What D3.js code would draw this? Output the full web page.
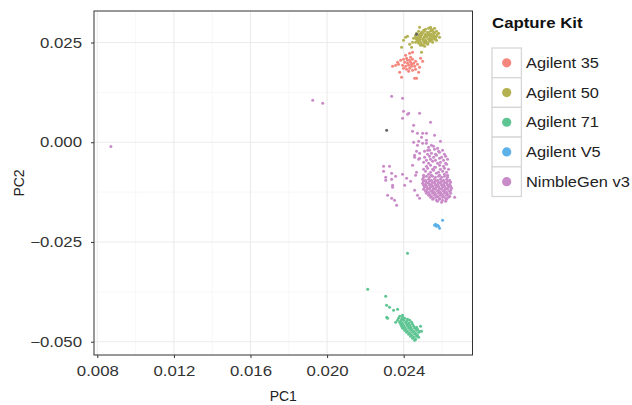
<!DOCTYPE html>
<html>
<head>
<meta charset="utf-8">
<script src="https://cdn.jsdelivr.net/npm/d3@7"></script>
<style>
  body { margin: 0; background: #fff; }
  text { font-family: "Liberation Sans", Arial, Helvetica, sans-serif; }
</style>
</head>
<body>
<svg id="chart" width="632" height="405"></svg>
<script>
// Capture kit groups and their colours
const kits = ["Agilent 35", "Agilent 50", "Agilent 71", "Agilent V5", "NimbleGen v3"];
const kitColors = ["#f4867d", "#b3b150", "#5ec592", "#5cb2e8", "#c98ac8"];

// Axis ticks
const xTicks = [0.008, 0.012, 0.016, 0.020, 0.024];
const xMinor = [0.010, 0.014, 0.018, 0.022, 0.026];
const yTicks = [0.025, 0.000, -0.025, -0.050];
const yMinor = [0.0125, -0.0125, -0.0375];

// Samples: [PC1, PC2]
const agilent35 = [
  [0.02399,0.02081],[0.02415,0.02106],[0.02431,0.02056],[0.02446,0.02081],[0.02405,0.02006],
  [0.02420,0.01981],[0.02436,0.02006],[0.02452,0.01981],[0.02462,0.02031],[0.02394,0.01931],
  [0.02410,0.01906],[0.02426,0.01931],[0.02441,0.01906],[0.02457,0.01906],[0.02415,0.01830],
  [0.02431,0.01856],[0.02446,0.01805],[0.02399,0.01856],[0.02426,0.01780],[0.02462,0.01830],
  [0.02436,0.02131],[0.02472,0.01956],[0.02431,0.02232],[0.02446,0.02257],[0.02342,0.01906],
  [0.02358,0.01931],[0.02373,0.01956],[0.02379,0.01755],[0.02389,0.01630],[0.02457,0.01605],
  [0.02467,0.01605],[0.02499,0.02031],[0.02488,0.02106],[0.02478,0.01755],[0.02368,0.02006],
  [0.02384,0.02056],[0.02483,0.01881],[0.02410,0.02182],[0.02420,0.02056],[0.02441,0.01956]
];

const agilent50 = [
  [0.02540,0.02884],[0.02483,0.02884],
  [0.02514,0.02833],[0.02530,0.02858],[0.02545,0.02833],[0.02561,0.02858],
  [0.02504,0.02808],[0.02551,0.02808],
  [0.02478,0.02783],[0.02493,0.02758],[0.02509,0.02783],[0.02525,0.02758],[0.02540,0.02783],[0.02556,0.02758],[0.02571,0.02783],
  [0.02467,0.02733],[0.02483,0.02708],[0.02499,0.02733],[0.02514,0.02708],[0.02530,0.02733],[0.02545,0.02708],[0.02561,0.02733],[0.02577,0.02708],
  [0.02488,0.02708],[0.02535,0.02683],
  [0.02462,0.02683],[0.02478,0.02658],[0.02493,0.02683],[0.02509,0.02658],[0.02525,0.02683],[0.02540,0.02658],[0.02556,0.02683],[0.02571,0.02658],
  [0.02519,0.02658],[0.02561,0.02633],
  [0.02462,0.02633],[0.02472,0.02608],[0.02488,0.02633],[0.02504,0.02608],[0.02519,0.02633],[0.02535,0.02608],[0.02551,0.02633],[0.02566,0.02608],
  [0.02483,0.02583],[0.02545,0.02583],
  [0.02467,0.02583],[0.02483,0.02558],[0.02499,0.02583],[0.02514,0.02558],[0.02530,0.02583],[0.02545,0.02558],[0.02561,0.02583],
  [0.02509,0.02533],[0.02571,0.02558],
  [0.02472,0.02533],[0.02488,0.02508],[0.02504,0.02533],[0.02519,0.02508],[0.02535,0.02533],[0.02551,0.02508],
  [0.02525,0.02482],[0.02462,0.02508],
  [0.02478,0.02482],[0.02493,0.02457],[0.02509,0.02482],[0.02525,0.02457],
  [0.02499,0.02432],[0.02488,0.02432],[0.02509,0.02407],
  [0.02410,0.02633],[0.02420,0.02658],[0.02399,0.02558],[0.02389,0.02382],[0.02431,0.02457],
  [0.02446,0.02508],[0.02493,0.02257],[0.02441,0.02382],[0.02582,0.02733],[0.02587,0.02633],
  [0.02452,0.02608]
];

const agilent71 = [
  [0.02420,-0.02783],[0.02212,-0.03686],[0.02306,-0.03862],[0.02311,-0.04087],[0.02326,-0.04137],
  [0.02347,-0.04213],[0.02368,-0.04188],[0.02311,-0.04388],[0.02316,-0.04413],[0.02394,-0.04338],
  [0.02358,-0.04514],
  [0.02379,-0.04363],[0.02394,-0.04388],
  [0.02373,-0.04413],[0.02389,-0.04438],[0.02405,-0.04413],[0.02420,-0.04438],
  [0.02368,-0.04463],[0.02384,-0.04488],[0.02399,-0.04463],[0.02415,-0.04488],[0.02431,-0.04463],
  [0.02379,-0.04514],[0.02394,-0.04539],[0.02410,-0.04514],[0.02426,-0.04539],[0.02441,-0.04514],
  [0.02384,-0.04564],[0.02399,-0.04589],[0.02415,-0.04564],[0.02431,-0.04589],[0.02446,-0.04564],
  [0.02389,-0.04614],[0.02405,-0.04639],[0.02420,-0.04614],[0.02436,-0.04639],[0.02452,-0.04614],[0.02467,-0.04639],
  [0.02394,-0.04664],[0.02410,-0.04689],[0.02426,-0.04664],[0.02441,-0.04689],[0.02457,-0.04664],[0.02472,-0.04689],
  [0.02405,-0.04714],[0.02420,-0.04739],[0.02436,-0.04714],[0.02452,-0.04739],[0.02467,-0.04714],[0.02483,-0.04739],
  [0.02415,-0.04764],[0.02431,-0.04789],[0.02446,-0.04764],[0.02462,-0.04789],[0.02478,-0.04764],
  [0.02426,-0.04814],[0.02441,-0.04839],[0.02457,-0.04814],[0.02472,-0.04839],
  [0.02436,-0.04865],[0.02452,-0.04890],[0.02467,-0.04865],
  [0.02446,-0.04915],[0.02462,-0.04940],
  [0.02488,-0.04614],[0.02478,-0.04890],[0.02457,-0.04965],[0.02493,-0.04739]
];

const agilentV5 = [
  [0.02561,-0.02081],[0.02571,-0.02106],[0.02577,-0.02081],[0.02587,-0.02156],
  [0.02603,-0.01956],[0.02566,-0.02056],[0.02582,-0.02106]
];

const nimbleGenV3 = [
  [0.00871,-0.00108],[0.01925,0.01053],[0.01977,0.00978],
  [0.02337,0.01153],[0.02394,0.01103],[0.02399,0.00777],[0.02420,0.00702],[0.02426,0.00727],
  [0.02483,0.00727],[0.02394,0.00602],[0.02452,0.00426],[0.02540,0.00502],[0.02446,0.00276],
  [0.02472,0.00226],[0.02499,0.00226],[0.02519,0.00226],[0.02561,0.00176],[0.02493,0.00125],
  [0.02452,0.00000],[0.02519,-0.00025],[0.02592,0.00025],[0.02472,-0.00075],[0.02478,0.00025],
  [0.02499,-0.00025],[0.02467,-0.00226],[0.02483,-0.00276],[0.02457,-0.00376],[0.02519,0.00050],
  [0.02545,-0.00075],[0.02525,-0.00201],
  [0.02295,-0.00602],[0.02326,-0.00602],[0.02295,-0.00727],[0.02337,-0.00777],[0.02358,-0.00853],
  [0.02306,-0.00878],[0.02306,-0.00953],[0.02337,-0.00928],[0.02342,-0.01078],[0.02342,-0.01128],
  [0.02394,-0.00802],[0.02415,-0.00903],[0.02405,-0.01078],[0.02316,-0.01329],[0.02337,-0.01404],
  [0.02352,-0.01454],[0.02363,-0.01580],[0.02457,-0.00326],[0.02467,-0.00752],[0.02462,-0.00827],
  [0.02478,-0.00426],[0.02457,-0.01204],[0.02472,-0.01329],[0.02483,-0.01404],[0.02483,-0.00401],
  [0.02666,-0.01379],[0.02446,-0.00577],[0.02436,-0.00978],
  [0.02530,-0.00125],[0.02556,-0.00100],[0.02577,-0.00150],
  [0.02509,-0.00226],[0.02535,-0.00201],[0.02561,-0.00176],[0.02582,-0.00226],[0.02603,-0.00201],
  [0.02525,-0.00301],[0.02545,-0.00276],[0.02566,-0.00301],[0.02587,-0.00251],[0.02613,-0.00301],
  [0.02509,-0.00376],[0.02535,-0.00351],[0.02556,-0.00376],[0.02571,-0.00326],[0.02598,-0.00376],[0.02619,-0.00351],
  [0.02519,-0.00451],[0.02540,-0.00426],[0.02566,-0.00451],[0.02587,-0.00401],[0.02608,-0.00451],[0.02629,-0.00426],
  [0.02504,-0.00502],[0.02530,-0.00527],[0.02551,-0.00476],[0.02577,-0.00527],[0.02592,-0.00502],[0.02619,-0.00527],
  [0.02519,-0.00602],[0.02540,-0.00577],[0.02561,-0.00627],[0.02587,-0.00577],[0.02608,-0.00602],[0.02624,-0.00552],
  [0.02504,-0.00677],[0.02525,-0.00652],[0.02551,-0.00677],[0.02566,-0.00627],[0.02592,-0.00677],[0.02613,-0.00652],[0.02634,-0.00677],
  [0.02514,-0.00727],[0.02540,-0.00752],[0.02556,-0.00702],[0.02582,-0.00752],[0.02603,-0.00727],[0.02624,-0.00752],
  [0.02504,-0.00827],[0.02530,-0.00802],[0.02545,-0.00827],[0.02571,-0.00777],[0.02587,-0.00827],[0.02613,-0.00802],[0.02629,-0.00827],
  [0.02504,-0.00878],[0.02519,-0.00853],[0.02535,-0.00878],[0.02551,-0.00853],[0.02566,-0.00878],[0.02582,-0.00853],[0.02598,-0.00878],[0.02613,-0.00853],[0.02629,-0.00878],
  [0.02499,-0.00928],[0.02514,-0.00953],[0.02530,-0.00928],[0.02545,-0.00953],[0.02561,-0.00928],[0.02577,-0.00953],[0.02592,-0.00928],[0.02608,-0.00953],[0.02624,-0.00928],[0.02640,-0.00953],
  [0.02504,-0.00978],[0.02519,-0.01003],[0.02535,-0.00978],[0.02551,-0.01003],[0.02566,-0.00978],[0.02582,-0.01003],[0.02598,-0.00978],[0.02613,-0.01003],[0.02629,-0.00978],[0.02645,-0.01003],
  [0.02499,-0.01028],[0.02514,-0.01053],[0.02530,-0.01028],[0.02545,-0.01053],[0.02561,-0.01028],[0.02577,-0.01053],[0.02592,-0.01028],[0.02608,-0.01053],[0.02624,-0.01028],[0.02640,-0.01053],
  [0.02504,-0.01078],[0.02519,-0.01103],[0.02535,-0.01078],[0.02551,-0.01103],[0.02566,-0.01078],[0.02582,-0.01103],[0.02598,-0.01078],[0.02613,-0.01103],[0.02629,-0.01078],[0.02645,-0.01103],
  [0.02509,-0.01128],[0.02525,-0.01153],[0.02540,-0.01128],[0.02556,-0.01153],[0.02571,-0.01128],[0.02587,-0.01153],[0.02603,-0.01128],[0.02619,-0.01153],[0.02634,-0.01128],[0.02650,-0.01153],
  [0.02504,-0.01179],[0.02519,-0.01204],[0.02535,-0.01179],[0.02551,-0.01204],[0.02566,-0.01179],[0.02582,-0.01204],[0.02598,-0.01179],[0.02613,-0.01204],[0.02629,-0.01179],[0.02645,-0.01204],
  [0.02514,-0.01229],[0.02530,-0.01254],[0.02545,-0.01229],[0.02561,-0.01254],[0.02577,-0.01229],[0.02592,-0.01254],[0.02608,-0.01229],[0.02624,-0.01254],[0.02640,-0.01229],
  [0.02519,-0.01279],[0.02535,-0.01304],[0.02551,-0.01279],[0.02566,-0.01304],[0.02582,-0.01279],[0.02598,-0.01304],[0.02613,-0.01279],[0.02629,-0.01304],[0.02645,-0.01279],
  [0.02530,-0.01329],[0.02545,-0.01354],[0.02561,-0.01329],[0.02577,-0.01354],[0.02592,-0.01329],[0.02608,-0.01354],[0.02624,-0.01329],[0.02640,-0.01354],
  [0.02540,-0.01379],[0.02556,-0.01404],[0.02571,-0.01379],[0.02587,-0.01404],[0.02603,-0.01379],[0.02619,-0.01404],[0.02634,-0.01379],
  [0.02551,-0.01429],[0.02571,-0.01454],[0.02587,-0.01429],[0.02603,-0.01454],[0.02624,-0.01429],
  [0.02577,-0.01479],[0.02598,-0.01504],[0.02619,-0.01479]
];

// Samples without a kit label
const unassigned = [[0.02311,0.00301],[0.02467,0.02708]];

const seriesByKit = [agilent35, agilent50, agilent71, agilentV5, nimbleGenV3];

// Layout
const panel = { left: 94, right: 472.5, top: 11, bottom: 355 };
const svg = d3.select("#chart");

const x = d3.scaleLinear().domain([0.007828, 0.027593]).range([panel.left, panel.right]);
const y = d3.scaleLinear().domain([-0.05333, 0.0329]).range([panel.bottom, panel.top]);
const color = d3.scaleOrdinal().domain(kits).range(kitColors);

// Stretch text horizontally a little, to match the wide lettering of the plot
function widen(sel, k) {
  sel.each(function () {
    const w = this.getComputedTextLength();
    this.setAttribute("textLength", (w * k).toFixed(2));
    this.setAttribute("lengthAdjust", "spacingAndGlyphs");
  });
}

// Panel background and grid
svg.append("rect")
  .attr("x", panel.left).attr("y", panel.top)
  .attr("width", panel.right - panel.left).attr("height", panel.bottom - panel.top)
  .attr("fill", "#fff");

const grid = svg.append("g");
grid.selectAll(".xminor").data(xMinor).join("line")
  .attr("x1", d => x(d)).attr("x2", d => x(d))
  .attr("y1", panel.top).attr("y2", panel.bottom)
  .attr("stroke", "#f4f4f4").attr("stroke-width", 0.7);
grid.selectAll(".yminor").data(yMinor).join("line")
  .attr("y1", d => y(d)).attr("y2", d => y(d))
  .attr("x1", panel.left).attr("x2", panel.right)
  .attr("stroke", "#f4f4f4").attr("stroke-width", 0.7);
grid.selectAll(".xmajor").data(xTicks).join("line")
  .attr("x1", d => x(d)).attr("x2", d => x(d))
  .attr("y1", panel.top).attr("y2", panel.bottom)
  .attr("stroke", "#ebebeb").attr("stroke-width", 1.1);
grid.selectAll(".ymajor").data(yTicks).join("line")
  .attr("y1", d => y(d)).attr("y2", d => y(d))
  .attr("x1", panel.left).attr("x2", panel.right)
  .attr("stroke", "#ebebeb").attr("stroke-width", 1.1);

// Points
const points = svg.append("g");
seriesByKit.forEach((pts, i) => {
  points.append("g").selectAll("circle").data(pts).join("circle")
    .attr("cx", d => x(d[0])).attr("cy", d => y(d[1]))
    .attr("r", 1.5)
    .attr("fill", color(kits[i]));
});
points.append("g").selectAll("circle").data(unassigned).join("circle")
  .attr("cx", d => x(d[0])).attr("cy", d => y(d[1]))
  .attr("r", 1.5).attr("fill", "#666");

// Panel border
svg.append("rect")
  .attr("x", panel.left).attr("y", panel.top)
  .attr("width", panel.right - panel.left).attr("height", panel.bottom - panel.top)
  .attr("fill", "none").attr("stroke", "#333").attr("stroke-width", 1);

// Axes
const fmt = d3.format(".3f");
const xAxis = svg.append("g")
  .attr("transform", `translate(0,${panel.bottom})`)
  .call(d3.axisBottom(x).tickValues(xTicks).tickFormat(fmt).tickSize(3).tickPadding(5));
const yAxis = svg.append("g")
  .attr("transform", `translate(${panel.left},0)`)
  .call(d3.axisLeft(y).tickValues(yTicks).tickFormat(fmt).tickSize(3).tickPadding(9));

[xAxis, yAxis].forEach(ax => {
  ax.select(".domain").remove();
  ax.selectAll(".tick line").attr("stroke", "#333");
  ax.selectAll(".tick text")
    .attr("fill", "#333")
    .style("font-size", "14px")
    .style("font-family", "'Liberation Sans', Arial, sans-serif");
});
xAxis.selectAll(".tick text").attr("dy", "0.95em");
widen(xAxis.selectAll(".tick text"), 1.2);
widen(yAxis.selectAll(".tick text"), 1.2);

// Axis titles
svg.append("text")
  .attr("x", (panel.left + panel.right) / 2).attr("y", 401)
  .attr("text-anchor", "middle")
  .style("font-size", "14px").attr("fill", "#222")
  .text("PC1");
svg.append("text")
  .attr("transform", `translate(24,${(panel.top + panel.bottom) / 2}) rotate(-90)`)
  .attr("text-anchor", "middle")
  .style("font-size", "14px").attr("fill", "#222")
  .text("PC2");

// Legend
const legend = svg.append("g").attr("transform", "translate(492,0)");
legend.append("text")
  .attr("x", 0).attr("y", 28)
  .style("font-size", "14px").style("font-weight", "bold").attr("fill", "#111")
  .text("Capture Kit")
  .call(widen, 1.2);

const keyH = 29.7, keyW = 29.4, keyTop = 48;
const rows = legend.selectAll(".key").data(kits).join("g")
  .attr("transform", (d, i) => `translate(0,${keyTop + i * keyH})`);
rows.append("rect")
  .attr("width", keyW).attr("height", keyH)
  .attr("fill", "#fff").attr("stroke", "#d6d6d6").attr("stroke-width", 1.3);
rows.append("circle")
  .attr("cx", keyW / 2).attr("cy", keyH / 2).attr("r", 4.6)
  .attr("fill", d => color(d));
rows.append("text")
  .attr("x", 34).attr("y", keyH / 2 + 5)
  .style("font-size", "14px").attr("fill", "#222")
  .text(d => d)
  .call(widen, 1.17);
</script>
</body>
</html>
